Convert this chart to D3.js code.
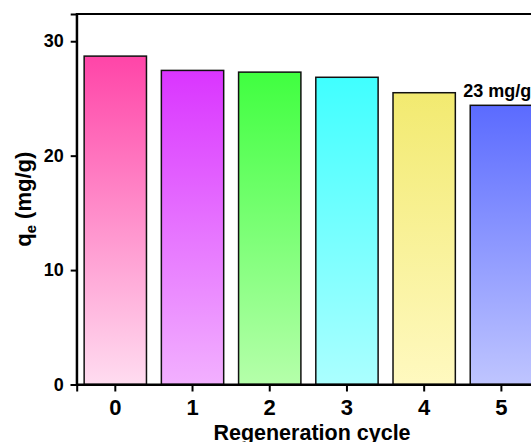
<!DOCTYPE html>
<html>
<head>
<meta charset="utf-8">
<script src="https://cdn.jsdelivr.net/npm/d3@7"></script>
<style>
  html, body { margin: 0; padding: 0; background: #fff; }
  svg { display: block; font-family: "Liberation Sans", Arial, sans-serif; }
</style>
</head>
<body>
<svg id="chart" width="531" height="442"></svg>
<script>
// Adsorption capacity over successive regeneration cycles
const cycles = ["0", "1", "2", "3", "4", "5"];
const qe = [28.7, 27.45, 27.3, 26.85, 25.5, 24.4];
const topColors = ["#ff45a8", "#da35ff", "#40ff40", "#40ffff", "#f2ea70", "#5b6bff"];
const bottomColors = ["#ffdcf0", "#f2b0ff", "#b5ffaa", "#abffff", "#fff9c0", "#bfc5ff"];
const yTicks = [0, 10, 20, 30];
const noteText = "23 mg/g";

const svg = d3.select("#chart");
const plotLeft = 76.7, plotRight = 540, plotTop = 14, plotBottom = 384.5;

const x = d3.scaleBand()
  .domain(cycles)
  .range([plotLeft, plotRight])
  .paddingInner(0.193)
  .paddingOuter(0.0965);

const y = d3.scaleLinear()
  .domain([0, 32.38])
  .range([plotBottom, plotTop]);

// Vertical gradient for each bar, saturated at the top fading to pale
const defs = svg.append("defs");
cycles.forEach((c, i) => {
  const g = defs.append("linearGradient")
    .attr("id", "grad" + i)
    .attr("x1", 0).attr("y1", 0).attr("x2", 0).attr("y2", 1);
  g.append("stop").attr("offset", "0%").attr("stop-color", topColors[i]);
  g.append("stop").attr("offset", "100%").attr("stop-color", bottomColors[i]);
});

// Bars
svg.append("g")
  .selectAll("rect")
  .data(cycles)
  .join("rect")
  .attr("x", d => x(d))
  .attr("y", (d, i) => y(qe[i]))
  .attr("width", x.bandwidth())
  .attr("height", (d, i) => y(0) - y(qe[i]))
  .attr("fill", (d, i) => `url(#grad${i})`)
  .attr("stroke", "#111")
  .attr("stroke-width", 1.5);

// Plot frame
svg.append("rect")
  .attr("x", plotLeft).attr("y", plotTop)
  .attr("width", plotRight - plotLeft).attr("height", plotBottom - plotTop)
  .attr("fill", "none")
  .attr("stroke", "#000")
  .attr("stroke-width", 2);

// Y axis
const yAxis = svg.append("g")
  .attr("transform", `translate(${plotLeft},0)`)
  .call(d3.axisLeft(y).tickValues(yTicks).tickSize(6).tickPadding(7).tickFormat(d3.format("d")));
yAxis.select(".domain").attr("stroke-width", 2);
yAxis.selectAll(".tick line").attr("stroke-width", 2);
yAxis.selectAll("text")
  .attr("font-size", 18).attr("font-weight", "bold")
  .attr("font-family", "Liberation Sans, Arial, sans-serif")
  .attr("fill", "#000");

// X axis
const xAxis = svg.append("g")
  .attr("transform", `translate(0,${plotBottom})`)
  .call(d3.axisBottom(x).tickSize(7).tickPadding(7.5));
xAxis.select(".domain").attr("stroke-width", 2);
xAxis.selectAll(".tick line").attr("stroke-width", 2);
xAxis.selectAll("text")
  .attr("font-size", 22).attr("font-weight", "bold")
  .attr("font-family", "Liberation Sans, Arial, sans-serif")
  .attr("fill", "#000");

// Axis titles
svg.append("text")
  .attr("x", 312).attr("y", 439.5)
  .attr("text-anchor", "middle")
  .attr("font-size", 21.5).attr("font-weight", "bold")
  .text("Regeneration cycle");

const yTitle = svg.append("text")
  .attr("transform", `translate(31,${(plotTop + plotBottom) / 2}) rotate(-90)`)
  .attr("text-anchor", "middle")
  .attr("font-size", 22).attr("font-weight", "bold");
yTitle.append("tspan").text("q");
yTitle.append("tspan").attr("font-size", 15).attr("dy", 5).text("e");
yTitle.append("tspan").attr("dy", -5).text(" (mg/g)");

// Annotation above the last cycle
svg.append("text")
  .attr("x", x("5") - 7).attr("y", 97)
  .attr("font-size", 18).attr("font-weight", "bold")
  .text(noteText);
</script>
</body>
</html>
